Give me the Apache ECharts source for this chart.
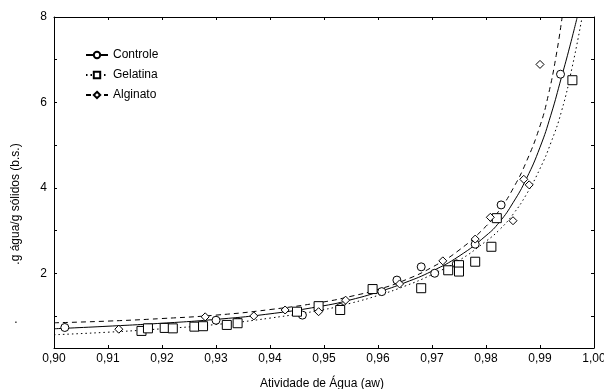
<!DOCTYPE html>
<html><head><meta charset="utf-8">
<script src="https://cdn.jsdelivr.net/npm/echarts@6/dist/echarts.min.js"></script>
<style>html,body{margin:0;padding:0;background:#fff}#c{width:604px;height:389px}</style>
</head><body><div id="c"></div>
<script>
// ---- data ----
const seriesNames = ['Controle', 'Gelatina', 'Alginato'];
const yLabelValues = [2, 4, 6, 8];
const yTickValues = [1, 2, 3, 4, 5, 6, 7, 8];
const xAxisTitle = 'Atividade de Água (aw)';
const yAxisTitle = '.g água/g sólidos (b.s.)';

const controleAw = [0.902, 0.930, 0.934, 0.946, 0.953, 0.9607, 0.9635, 0.968, 0.9705, 0.9745, 0.978, 0.9828, 0.9938];
const controleM  = [0.73, 0.90, 0.86, 1.02, 1.20, 1.57, 1.84, 2.15, 2.00, 2.22, 2.68, 3.60, 6.66];

const gelatinaAw = [0.9162, 0.9174, 0.9205, 0.922, 0.926, 0.9276, 0.932, 0.934, 0.945, 0.949, 0.953, 0.959, 0.968, 0.973, 0.975, 0.975, 0.978, 0.981, 0.982, 0.996];
const gelatinaM  = [0.65, 0.71, 0.72, 0.71, 0.75, 0.76, 0.79, 0.83, 1.10, 1.23, 1.14, 1.63, 1.65, 2.07, 2.19, 2.04, 2.27, 2.62, 3.29, 6.52];

const alginatoAw = [0.912, 0.928, 0.937, 0.9428, 0.949, 0.954, 0.964, 0.972, 0.978, 0.9808, 0.985, 0.987, 0.988, 0.990];
const alginatoM  = [0.69, 0.98, 1.00, 1.14, 1.10, 1.37, 1.75, 2.29, 2.80, 3.31, 3.23, 4.20, 4.07, 6.89];

// fitted curves
const controleFitAw = [0.900, 0.910, 0.920, 0.930, 0.940, 0.950, 0.955, 0.960, 0.965, 0.970, 0.975, 0.980, 0.9825, 0.985, 0.9875, 0.990, 0.992, 0.994, 0.9955, 0.9969];
const controleFitM  = [0.70, 0.76, 0.83, 0.92, 1.05, 1.24, 1.38, 1.56, 1.78, 2.05, 2.40, 2.88, 3.20, 3.65, 4.22, 4.95, 5.70, 6.60, 7.30, 8.00];

const gelatinaFitAw = [0.900, 0.910, 0.920, 0.930, 0.940, 0.950, 0.955, 0.960, 0.965, 0.970, 0.975, 0.980, 0.9825, 0.985, 0.9875, 0.990, 0.992, 0.994, 0.996, 0.9978];
const gelatinaFitM  = [0.56, 0.62, 0.70, 0.80, 0.95, 1.15, 1.30, 1.48, 1.70, 1.97, 2.30, 2.75, 3.02, 3.38, 3.85, 4.45, 5.05, 5.80, 6.85, 8.00];

const alginatoFitAw = [0.900, 0.910, 0.920, 0.930, 0.940, 0.950, 0.955, 0.960, 0.965, 0.970, 0.975, 0.980, 0.9825, 0.985, 0.9875, 0.990, 0.9915, 0.993, 0.9941];
const alginatoFitM  = [0.84, 0.88, 0.94, 1.02, 1.15, 1.33, 1.46, 1.62, 1.84, 2.14, 2.54, 3.10, 3.48, 3.98, 4.62, 5.45, 6.15, 7.10, 8.00];

// ---- build ----
const zip = (a, b) => a.map((v, i) => [v, b[i]]);
const font = 'Liberation Sans';
const black = '#000';

function fitSeries(name, aw, m, dash, symbol) {
  return {
    name, type: 'line', data: zip(aw, m), smooth: 0.5,
    symbol, symbolSize: 7, showSymbol: false, silent: true,
    lineStyle: { color: black, width: 1, type: dash },
    itemStyle: { color: '#fff', borderColor: black, borderWidth: 1 },
    z: 2
  };
}
function pointSeries(name, aw, m, symbol, size) {
  return {
    name, type: 'scatter', data: zip(aw, m), symbol, symbolSize: size,
    itemStyle: { color: '#fff', borderColor: black, borderWidth: 1, opacity: 1 },
    z: 3
  };
}

const axisCommon = {
  axisLine: { show: true, onZero: false, lineStyle: { color: black, width: 1 } },
  axisTick: { show: true, inside: true, length: 3, lineStyle: { color: black } },
  splitLine: { show: false }
};

const chart = echarts.init(document.getElementById('c'), null, { renderer: 'canvas' });
chart.setOption({
  animation: false,
  backgroundColor: '#fff',
  grid: { left: 54, right: 10, top: 17, bottom: 41, outerBoundsMode: 'none', containLabel: false },
  legend: {
    data: seriesNames, orient: 'vertical', left: 80, top: 44,
    itemWidth: 22, itemHeight: 8, itemGap: 8,
    textStyle: { fontFamily: font, fontSize: 12, color: black }
  },
  xAxis: [
    Object.assign({}, axisCommon, {
      type: 'value', position: 'bottom', min: 0.9, max: 1.0, interval: 0.01,
      axisLabel: { show: true, margin: 5, fontFamily: font, fontSize: 12, color: black,
        formatter: v => v.toFixed(2).replace('.', ',') }
    }),
    Object.assign({}, axisCommon, {
      type: 'value', position: 'top', min: 0.9, max: 1.0, interval: 0.01,
      axisLabel: { show: false }
    })
  ],
  yAxis: [
    Object.assign({}, axisCommon, {
      type: 'value', position: 'left', min: 0.25, max: 8,
      axisTick: { show: true, inside: true, length: 3, lineStyle: { color: black }, customValues: yTickValues },
      axisLabel: { show: true, margin: 7, fontFamily: font, fontSize: 12, color: black, customValues: yLabelValues }
    }),
    Object.assign({}, axisCommon, {
      type: 'value', position: 'right', min: 0.25, max: 8,
      axisTick: { show: true, inside: true, length: 3, lineStyle: { color: black }, customValues: yTickValues },
      axisLabel: { show: false }
    })
  ],
  graphic: [
    { type: 'text', x: 322, y: 384, silent: true,
      style: { text: xAxisTitle, fontFamily: font, fontSize: 12, fill: black, align: 'center', verticalAlign: 'middle' } },
    { type: 'text', x: 16, y: 204, rotation: Math.PI / 2, silent: true,
      style: { text: yAxisTitle, fontFamily: font, fontSize: 12, fill: black, align: 'center', verticalAlign: 'middle' } },
    { type: 'text', x: 16, y: 320, silent: true,
      style: { text: '.', fontFamily: font, fontSize: 12, fill: black, align: 'center', verticalAlign: 'middle' } }
  ],
  series: [
    fitSeries('Controle', controleFitAw, controleFitM, 'solid', 'circle'),
    fitSeries('Gelatina', gelatinaFitAw, gelatinaFitM, [1.5, 3], 'rect'),
    fitSeries('Alginato', alginatoFitAw, alginatoFitM, [5, 4], 'diamond'),
    pointSeries('Controle', controleAw, controleM, 'circle', 8),
    pointSeries('Gelatina', gelatinaAw, gelatinaM, 'rect', 9),
    pointSeries('Alginato', alginatoAw, alginatoM, 'diamond', 8)
  ]
});
</script>
</body></html>
